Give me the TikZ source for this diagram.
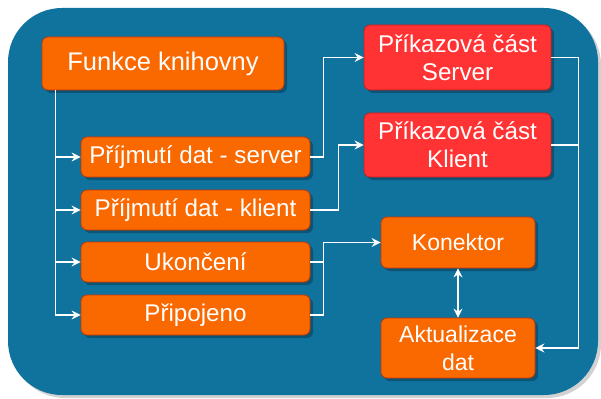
\documentclass[tikz,border=0pt]{standalone}
\usepackage{fontspec}
\setmainfont{Liberation Sans}
\usetikzlibrary{arrows.meta,shadows}
\definecolor{panel}{HTML}{10739E}
\definecolor{panelshade}{HTML}{0B5475}
\definecolor{orangefill}{HTML}{FA6800}
\definecolor{orangeline}{HTML}{C73500}
\definecolor{redfill}{HTML}{FF3333}
\definecolor{redline}{HTML}{C81E1E}
\tikzset{
  box/.style={draw=orangeline, fill=orangefill, line width=0.8pt, rounded corners=6pt,
    text=white, align=center, inner sep=0pt,
    font=\fontsize{23}{28}\selectfont,
    general shadow={fill=panelshade, shadow xshift=3pt, shadow yshift=-3pt}},
  bigtext/.style={font=\fontsize{24.2}{28}\selectfont},
  redbox/.style={box, bigtext, draw=redline, fill=redfill},
  conn/.style={draw=white, line width=1.2pt, -{Stealth[length=9pt,width=9pt,inset=3pt]}},
  line/.style={draw=white, line width=1.2pt},
}
\begin{document}
\begin{tikzpicture}[x=1pt,y=-1pt]
\useasboundingbox (0,0) rectangle (601,398);
% panel with its shadow
\fill[gray!35, rounded corners=54pt] (11,11) rectangle (601,398);
\fill[panel, rounded corners=54pt] (8,8) rectangle (598,395);

% boxes
\node[box, minimum width=242pt, minimum height=53pt, font=\fontsize{25.5}{28}\selectfont] (f) at (163,63.5) {Funkce knihovny};
\node[box, bigtext, minimum width=229pt, minimum height=40pt] (pds) at (195.5,157) {Příjmutí dat - server};
\node[box, bigtext, minimum width=229pt, minimum height=40pt] (pdk) at (195.5,210) {Příjmutí dat - klient};
\node[box, bigtext, minimum width=229pt, minimum height=40pt] (uk) at (195.5,262) {Ukončení};
\node[box, bigtext, minimum width=229pt, minimum height=40pt] (pr) at (195.5,315) {Připojeno};
\node[redbox, minimum width=187pt, minimum height=65pt] (pcs) at (457.5,57.5) {Příkazová část\hspace{0.28em}\\Server};
\node[redbox, minimum width=187pt, minimum height=64pt] (pck) at (457.5,145) {Příkazová část\\Klient};
\node[box, minimum width=154pt, minimum height=51pt] (kon) at (458,242.5) {Konektor};
\node[box, minimum width=154pt, minimum height=60pt] (akt) at (458,348) {Aktualizace\\dat};

% trunk from the library functions
\coordinate (t) at ([xshift=14pt]f.south west);
\draw[conn] (t) |- (pds.west);
\draw[conn] (t) |- (pdk.west);
\draw[conn] (t) |- (uk.west);
\draw[conn] (t) |- (pr.west);

% received data to the command parts
\draw[conn] (pds.east) -- ++(13,0) |- (pcs.west);
\draw[conn] (pdk.east) -- ++(28,0) |- (pck.west);

% end / connected to the connector
\draw[line] (uk.east) -- ++(13,0);
\draw[conn] (pr.east) -- ++(13,0) |- (kon.west);

% command parts to data update
\coordinate (r) at ([xshift=27pt]pcs.east);
\draw[line] (pck.east) -- (pck.east -| r);
\draw[conn] (pcs.east) -- (r) |- (akt.east);

% connector <-> data update
\draw[line, {Stealth[length=9pt,width=9pt,inset=3pt]}-{Stealth[length=9pt,width=9pt,inset=3pt]}] (kon.south) -- (akt.north);
\end{tikzpicture}
\end{document}
